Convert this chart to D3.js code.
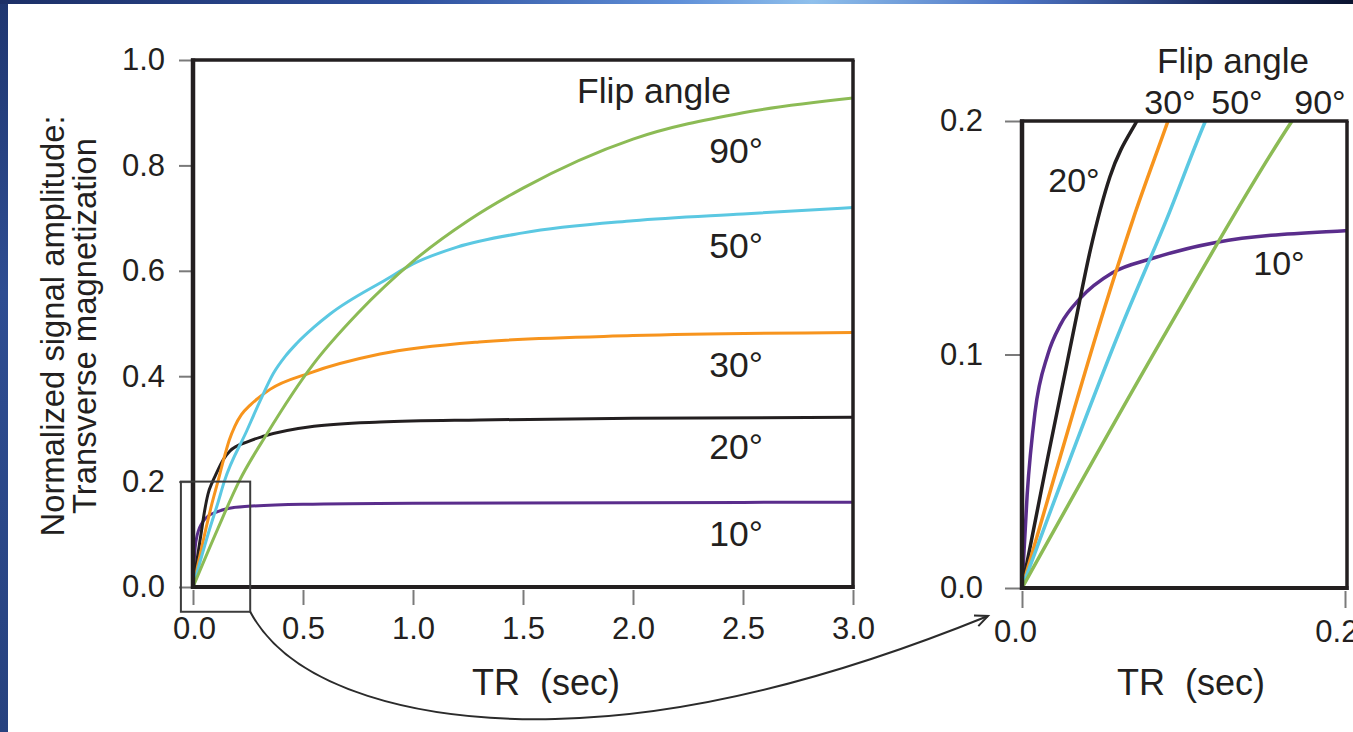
<!DOCTYPE html>
<html>
<head>
<meta charset="utf-8">
<script src="https://cdn.jsdelivr.net/npm/d3@7"></script>
<style>
  html, body { margin: 0; padding: 0; background: #ffffff; }
  svg { display: block; }
  text { font-family: "Liberation Sans", Arial, Helvetica, sans-serif; fill: #231f20; }
</style>
</head>
<body>
<svg id="chart" width="1353" height="732"></svg>
<script>
// Steady-state transverse magnetization vs. TR for several flip angles.
// Each series: [TR (s), normalized signal amplitude]
const flipAngles = [10, 20, 30, 50, 90];

const signal10 = [[0,0],[0.004,0.04],[0.01,0.075],[0.02,0.100],[0.03,0.113],[0.045,0.124],[0.07,0.135],
  [0.1,0.141],[0.15,0.148],[0.25,0.153],[0.5,0.157],[1.0,0.159],[2.0,0.160],[3.0,0.161]];
const signal20 = [[0,0],[0.02,0.056],[0.041,0.113],[0.053,0.145],[0.068,0.176],[0.089,0.200],[0.1,0.210],
  [0.138,0.242],[0.168,0.258],[0.25,0.276],[0.32,0.286],[0.55,0.305],[0.85,0.313],[1.3,0.317],[2.0,0.320],[3.0,0.322]];
const signal30 = [[0,0],[0.03,0.057],[0.06,0.113],[0.086,0.158],[0.113,0.200],[0.14,0.243],[0.165,0.279],
  [0.19,0.305],[0.22,0.327],[0.26,0.345],[0.35,0.375],[0.53,0.406],[0.85,0.442],[1.3,0.465],[2.0,0.477],[3.0,0.483]];
const signal50 = [[0,0],[0.077,0.112],[0.112,0.158],[0.142,0.200],[0.244,0.296],[0.305,0.353],[0.365,0.405],
  [0.42,0.438],[0.471,0.462],[0.55,0.493],[0.623,0.518],[0.88,0.584],[1.0,0.613],[1.2,0.645],[1.5,0.672],
  [2.0,0.695],[2.5,0.708],[3.0,0.720]];
const signal90 = [[0,0],[0.112,0.110],[0.209,0.200],[0.335,0.290],[0.547,0.423],[0.75,0.520],[1.0,0.618],
  [1.25,0.695],[1.5,0.757],[2.0,0.850],[2.5,0.900],[3.0,0.928]];

const mainXTicks = [0, 0.5, 1.0, 1.5, 2.0, 2.5, 3.0];
const mainYTicks = [0, 0.2, 0.4, 0.6, 0.8, 1.0];
const insetXTicks = [0, 0.25];
const insetYTicks = [0, 0.1, 0.2];

const seriesByAngle = { 10: signal10, 20: signal20, 30: signal30, 50: signal50, 90: signal90 };
const colorByAngle = { 10: "#5a2d8c", 20: "#231f20", 30: "#f7941d", 50: "#5bc8e2", 90: "#8cbb55" };

const svg = d3.select("#chart");
const W = 1353, H = 732;
const ink = "#231f20";
const tickGray = "#7a7a7a";

// ---- page frame ----
const defs = svg.append("defs");
const topGrad = defs.append("linearGradient").attr("id", "topBar").attr("x1", "0").attr("x2", "1").attr("y1", "0").attr("y2", "0");
[["0", "#1c2f66"], ["0.3", "#2e4f9c"], ["0.5", "#5f8fd8"], ["0.6", "#8fc0ec"], ["0.75", "#4d74c4"], ["0.9", "#1c2d62"], ["1", "#0b1430"]]
  .forEach(([o, c]) => topGrad.append("stop").attr("offset", o).attr("stop-color", c));
const sideGrad = defs.append("linearGradient").attr("id", "sideBar").attr("x1", "0").attr("x2", "0").attr("y1", "0").attr("y2", "1");
[["0", "#1f3670"], ["0.4", "#2e4d92"], ["1", "#27427f"]]
  .forEach(([o, c]) => sideGrad.append("stop").attr("offset", o).attr("stop-color", c));

svg.append("rect").attr("width", W).attr("height", H).attr("fill", "#ffffff");
svg.append("rect").attr("x", 0).attr("y", 0).attr("width", 8).attr("height", H).attr("fill", "url(#sideBar)");
svg.append("rect").attr("x", 0).attr("y", 0).attr("width", W).attr("height", 4).attr("fill", "url(#topBar)");

// ---- scales ----
const xMain = d3.scaleLinear().domain([0, 3]).range([193, 853]);
const yMain = d3.scaleLinear().domain([0, 1]).range([587, 60]);
const xInset = d3.scaleLinear().domain([0, 0.25]).range([1022, 1345]);
const yInset = d3.scaleLinear().domain([0, 0.2]).range([588, 121]);

function drawPanel(g, x, y, xTicks, yTicks, opts) {
  const [x0, x1] = x.range();
  const [yb, yt] = y.range();
  const clipId = opts.id + "-clip";
  defs.append("clipPath").attr("id", clipId)
    .append("rect").attr("x", x0).attr("y", yt).attr("width", x1 + opts.rightPad - x0).attr("height", yb - yt);

  // y axis ticks + labels
  const ya = g.append("g").attr("transform", `translate(${x0},0)`)
    .call(d3.axisLeft(y).tickValues(yTicks).tickSize(opts.yTickLen).tickPadding(opts.yTickPad).tickFormat(opts.yFmt));
  ya.select(".domain").remove();
  ya.selectAll(".tick line").attr("stroke", tickGray).attr("stroke-width", 2);
  ya.selectAll(".tick text").attr("font-size", 31).attr("fill", ink).style("font-family", null);

  // x axis ticks + labels
  const xa = g.append("g").attr("transform", `translate(0,${yb + 3})`)
    .call(d3.axisBottom(x).tickValues(xTicks).tickSize(opts.xTickLen).tickPadding(opts.xTickPad).tickFormat(opts.xFmt));
  xa.select(".domain").remove();
  xa.selectAll(".tick line").attr("stroke", tickGray).attr("stroke-width", 2);
  xa.selectAll(".tick text").attr("font-size", 31).attr("fill", ink).style("font-family", null)
    .attr("dx", (d, i) => i === 0 ? opts.firstXLabelShift : 0);

  // curves
  const line = d3.line().x(d => x(d[0])).y(d => y(d[1])).curve(d3.curveMonotoneX);
  const curves = g.append("g").attr("clip-path", `url(#${clipId})`);
  flipAngles.forEach(a => {
    curves.append("path")
      .datum(seriesByAngle[a])
      .attr("d", line)
      .attr("fill", "none")
      .attr("stroke", colorByAngle[a])
      .attr("stroke-width", opts.lineWidth)
      .attr("stroke-linejoin", "round");
  });

  // frame
  const xr = x1 + opts.rightPad;
  g.append("line").attr("x1", x0 - 2).attr("x2", xr + 1.5).attr("y1", yt).attr("y2", yt).attr("stroke", ink).attr("stroke-width", 3.5);
  g.append("line").attr("x1", xr).attr("x2", xr).attr("y1", yt).attr("y2", yb + 2).attr("stroke", ink).attr("stroke-width", 3.5);
  g.append("line").attr("x1", x0 - 2).attr("x2", xr + 1.5).attr("y1", yb).attr("y2", yb).attr("stroke", ink).attr("stroke-width", 4);
  g.append("line").attr("x1", x0).attr("x2", x0).attr("y1", yt - 1.5).attr("y2", yb + 2).attr("stroke", ink).attr("stroke-width", 4.5);

  // axis title
  g.append("text")
    .attr("x", opts.titleX).attr("y", 695)
    .attr("text-anchor", "middle")
    .attr("font-size", 36)
    .style("white-space", "pre")
    .text("TR  (sec)");
}

const fmt1 = d3.format(".1f");
const fmtInsetX = d => d === 0 ? "0.0" : d3.format(".2f")(d);

const mainG = svg.append("g");
drawPanel(mainG, xMain, yMain, mainXTicks, mainYTicks, {
  id: "main", rightPad: 0, yTickLen: 14, yTickPad: 14, xTickLen: 15, xTickPad: 12,
  yFmt: fmt1, xFmt: fmt1, lineWidth: 3, titleX: 546, firstXLabelShift: 1
});

const insetG = svg.append("g");
drawPanel(insetG, xInset, yInset, insetXTicks, insetYTicks, {
  id: "inset", rightPad: 2, yTickLen: 17, yTickPad: 22, xTickLen: 17, xTickPad: 12,
  yFmt: fmt1, xFmt: fmtInsetX, lineWidth: 3.5, titleX: 1191, firstXLabelShift: -7
});

// y axis title (two lines, rotated)
const yTitle = svg.append("text")
  .attr("transform", "translate(0,326) rotate(-90)")
  .attr("text-anchor", "middle")
  .attr("font-size", 32.8);
yTitle.append("tspan").attr("x", 0).attr("y", 64).text("Normalized signal amplitude:");
yTitle.append("tspan").attr("x", 0).attr("y", 96).text("Transverse magnetization");

// ---- flip-angle annotations ----
const annot = (x, y, t, size) => svg.append("text")
  .attr("x", x).attr("y", y).attr("text-anchor", "middle").attr("font-size", size).text(t);

annot(654, 103, "Flip angle", 35.5);
const mainLabelY = { 90: 163, 50: 258, 30: 377, 20: 459, 10: 546 };
flipAngles.forEach(a => annot(736, mainLabelY[a], a + "°", 35.5));

annot(1233, 73, "Flip angle", 35);
annot(1170, 114, "30°", 34);
annot(1237, 114, "50°", 34);
annot(1320, 114, "90°", 34);
annot(1074, 192, "20°", 34);
annot(1279, 275, "10°", 34);

// ---- zoom box on the main panel and the connecting arrow ----
const boxX0 = xMain(-0.055), boxX1 = xMain(0.26);
const boxY0 = yMain(0.2), boxY1 = yMain(-0.047);
svg.append("rect")
  .attr("x", boxX0).attr("y", boxY0)
  .attr("width", boxX1 - boxX0).attr("height", boxY1 - boxY0)
  .attr("fill", "none").attr("stroke", "#3c3c3c").attr("stroke-width", 2);

const arrowPath = d3.path();
arrowPath.moveTo(boxX1, boxY1);
arrowPath.bezierCurveTo(292, 690, 420, 722, 555, 719);
arrowPath.bezierCurveTo(700, 716, 850, 672, 988, 616);
svg.append("path")
  .attr("d", arrowPath.toString())
  .attr("fill", "none").attr("stroke", "#2b2b2b").attr("stroke-width", 2);

// open arrow head at (988,616) along the curve direction
const tip = [988, 616];
const ang = Math.atan2(616 - 672, 988 - 850);
const headLen = 14, spread = 0.42;
const head = d3.path();
head.moveTo(tip[0] - headLen * Math.cos(ang - spread), tip[1] - headLen * Math.sin(ang - spread));
head.lineTo(tip[0], tip[1]);
head.lineTo(tip[0] - headLen * Math.cos(ang + spread), tip[1] - headLen * Math.sin(ang + spread));
svg.append("path").attr("d", head.toString())
  .attr("fill", "none").attr("stroke", "#2b2b2b").attr("stroke-width", 2).attr("stroke-linejoin", "miter");
</script>
</body>
</html>
